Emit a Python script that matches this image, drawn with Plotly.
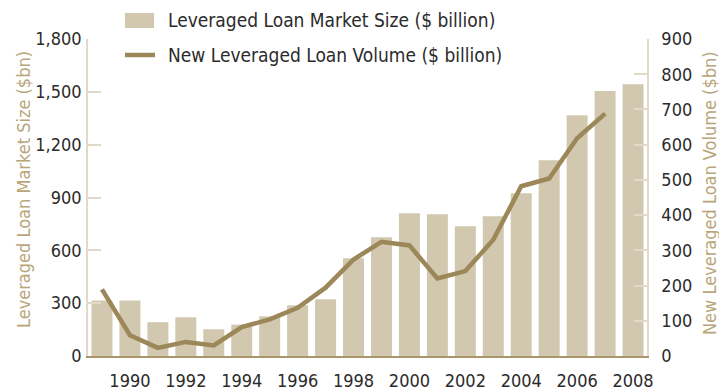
import plotly.graph_objects as go

years = list(range(1989, 2009))
market_size = [315, 315, 192, 220, 152, 178, 225, 288, 322, 555, 674, 810, 805, 737, 793, 924, 1112, 1367, 1505, 1543]
line_years = list(range(1989, 2008))
new_volume = [189, 59, 23, 40, 30, 82, 104, 137, 194, 274, 324, 314, 220, 241, 330, 482, 504, 618, 688]

left_ticks = [0, 300, 600, 900, 1200, 1500, 1800]
right_ticks = [0, 100, 200, 300, 400, 500, 600, 700, 800, 900]
x_ticks = list(range(1990, 2009, 2))

BAR = "#d2c7af"
LINE = "#9b8758"
AXIS = "#e2d9c8"
BASE = "#a8966a"
TITLE = "#b8a67a"
TEXT = "#2b2b2b"
FONT = "Liberation Sans Narrow, DejaVu Sans Condensed, Arial Narrow, sans-serif"

W, H = 719, 390
L, R, T, B = 88, 72, 39, 34
pw, ph = W - L - R, H - T - B

def px(x):
    return (x - L) / pw

def py(y):
    return (H - B - y) / ph

fig = go.Figure()
fig.add_trace(go.Bar(x=years, y=market_size, marker_color=BAR, marker_line_width=0,
                     name="Leveraged Loan Market Size ($ billion)", yaxis="y"))
fig.add_trace(go.Scatter(x=line_years, y=new_volume, mode="lines",
                         line=dict(color=LINE, width=4.5), name="New Leveraged Loan Volume ($ billion)",
                         yaxis="y2"))

fig.update_layout(
    width=W, height=H, margin=dict(l=L, r=R, t=T, b=B, pad=0, autoexpand=False),
    paper_bgcolor="white", plot_bgcolor="white",
    showlegend=False, bargap=0.25,
    font=dict(family=FONT, size=18, color=TEXT),
    xaxis=dict(range=[1988.5, 2008.5], tickvals=x_ticks, ticktext=[str(v) for v in x_ticks],
               showgrid=False, zeroline=False, showline=True, linecolor=BASE, linewidth=2,
               ticks="", tickfont=dict(size=18, color=TEXT), ticklabelstandoff=7, automargin=False),
    yaxis=dict(range=[0, 1800], tickvals=left_ticks, ticktext=[f"{v:,}" for v in left_ticks],
               showgrid=False, zeroline=False, showline=True, linecolor=AXIS, linewidth=1.5,
               ticks="inside", ticklen=13, tickcolor=AXIS, tickwidth=1.5,
               tickfont=dict(size=18, color=TEXT), ticklabelstandoff=1, automargin=False),
    yaxis2=dict(range=[0, 900], tickvals=right_ticks, overlaying="y", side="right",
                showgrid=False, zeroline=False, showline=True, linecolor=AXIS, linewidth=1.5,
                ticks="inside", ticklen=13, tickcolor=AXIS, tickwidth=1.5,
                tickfont=dict(size=18, color=TEXT), ticklabelstandoff=9, automargin=False),
)

# legend drawn as shapes + annotations
fig.add_shape(type="rect", xref="paper", yref="paper",
              x0=px(125), x1=px(154), y0=py(28), y1=py(13), fillcolor=BAR, line_width=0)
fig.add_shape(type="line", xref="paper", yref="paper",
              x0=px(125), x1=px(155), y0=py(55), y1=py(55), line=dict(color=LINE, width=4.5))
fig.add_annotation(xref="paper", yref="paper", x=px(166), y=py(20), xanchor="left", yanchor="middle",
                   text="Leveraged Loan Market Size ($ billion)", showarrow=False,
                   font=dict(size=19, color=TEXT, family=FONT))
fig.add_annotation(xref="paper", yref="paper", x=px(166), y=py(55), xanchor="left", yanchor="middle",
                   text="New Leveraged Loan Volume ($ billion)", showarrow=False,
                   font=dict(size=19, color=TEXT, family=FONT))

# axis titles
fig.add_annotation(xref="paper", yref="paper", x=px(23), y=py(190), xanchor="center", yanchor="middle",
                   text="Leveraged Loan Market Size ($bn)", textangle=-90, showarrow=False,
                   font=dict(size=18, color=TITLE, family=FONT))
fig.add_annotation(xref="paper", yref="paper", x=px(709), y=py(193), xanchor="center", yanchor="middle",
                   text="New Leveraged Loan Volume ($bn)", textangle=-90, showarrow=False,
                   font=dict(size=18, color=TITLE, family=FONT))

fig.write_html("out.html")
